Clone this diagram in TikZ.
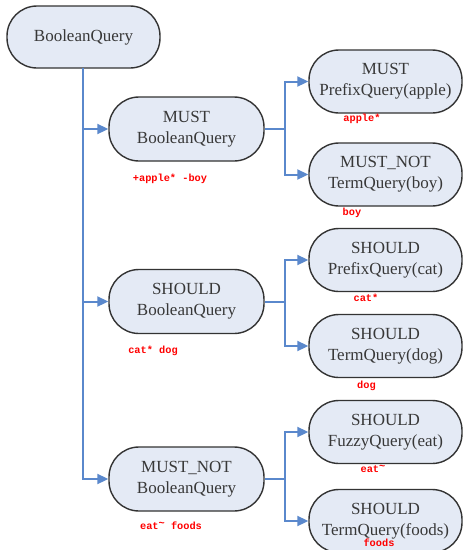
\documentclass[tikz,border=0pt]{standalone}
\usepackage{fontspec}
\setmainfont{Liberation Serif}
\newfontfamily\labfont{Liberation Mono}
\usetikzlibrary{arrows.meta}
\definecolor{nodefill}{HTML}{E4EAF5}
\definecolor{nodeedge}{HTML}{333333}
\definecolor{nodetext}{HTML}{383838}
\definecolor{connblue}{HTML}{5A88CC}
\tikzset{
  qbox/.style={draw=nodeedge, line width=1.4pt, fill=nodefill, rounded corners=30pt,
    minimum height=63pt, inner sep=0pt, align=center, text=nodetext,
    font=\fontsize{17}{21}\selectfont},
  rootbox/.style={qbox, minimum width=153pt, minimum height=62pt},
  midbox/.style={qbox, minimum width=155pt, minimum height=64pt},
  rightbox/.style={qbox, minimum width=153pt},
  conn/.style={draw=connblue, line width=2pt, -{Triangle[length=11pt,width=10pt]}},
  redlab/.style={text=red, inner sep=0pt, font=\labfont\bfseries\fontsize{10.3}{12}\selectfont}
}
\begin{document}
\begin{tikzpicture}[x=1pt,y=-1pt]
\useasboundingbox (0,0) rectangle (463,550);
\clip (0,0) rectangle (463,550);
\fill[white] (0,0) rectangle (463,550);

\node[rootbox] (root) at (83.5,37) {BooleanQuery};

\node[midbox] (m1) at (186.5,129) {MUST\\BooleanQuery};
\node[midbox] (m2) at (186.5,301.5) {SHOULD\\BooleanQuery};
\node[midbox] (m3) at (186.5,479) {MUST\_NOT\\BooleanQuery};

\node[rightbox] (r1) at (385.5,81.5) {MUST\\PrefixQuery(apple)};
\node[rightbox] (r2) at (385.5,174.5) {MUST\_NOT\\TermQuery(boy)};
\node[rightbox] (r3) at (385.5,260) {SHOULD\\PrefixQuery(cat)};
\node[rightbox] (r4) at (385.5,346) {SHOULD\\TermQuery(dog)};
\node[rightbox] (r5) at (385.5,432) {SHOULD\\FuzzyQuery(eat)};
\node[rightbox] (r6) at (385.5,521) {SHOULD\\TermQuery(foods)};

\coordinate (trunk) at (82.5,68);
\coordinate (b1) at (285,129);
\coordinate (b2) at (285,301.5);
\coordinate (b3) at (285,479);

\draw[conn] (trunk) |- (m1.west);
\draw[conn] (trunk) |- (m2.west);
\draw[conn] (trunk) |- (m3.west);

\draw[conn] (m1.east) -- (b1) |- (r1.west);
\draw[conn] (m1.east) -- (b1) |- (r2.west);
\draw[conn] (m2.east) -- (b2) |- (r3.west);
\draw[conn] (m2.east) -- (b2) |- (r4.west);
\draw[conn] (m3.east) -- (b3) |- (r5.west);
\draw[conn] (m3.east) -- (b3) |- (r6.west);

\node[redlab] (l1) at (170,179) {+apple* -boy};
\node[redlab] (l2) at (153,351) {cat* dog};
\node[redlab] (l3) at (171,526) {eat\raisebox{3pt}{\textasciitilde} foods};
\node[redlab] (la) at (362,119) {apple*};
\node[redlab] (lb) at (352,213) {boy};
\node[redlab] (lc) at (366,298) {cat*};
\node[redlab] (ld) at (366.5,386) {dog};
\node[redlab] (le) at (373,469) {eat\raisebox{3pt}{\textasciitilde}};
\node[redlab] (lf) at (379,543) {foods};
\end{tikzpicture}
\end{document}
